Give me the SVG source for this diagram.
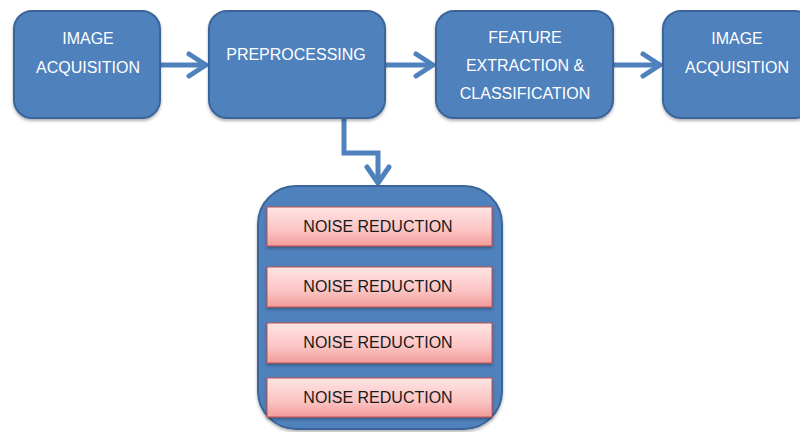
<svg xmlns="http://www.w3.org/2000/svg" width="800" height="432" viewBox="0 0 800 432">
  <defs>
    <linearGradient id="pink" x1="0" y1="0" x2="0" y2="1">
      <stop offset="0" stop-color="#FFE4E4"/>
      <stop offset="0.6" stop-color="#FBC4C3"/>
      <stop offset="1" stop-color="#F29B99"/>
    </linearGradient>
    <filter id="shadow" x="-10%" y="-10%" width="120%" height="130%">
      <feDropShadow dx="0" dy="2" stdDeviation="1.5" flood-color="#000" flood-opacity="0.3"/>
    </filter>
  </defs>
  <style>
    .box { fill: #4F81BD; stroke: #3A659A; stroke-width: 2; filter: url(#shadow); }
    .bar { fill: url(#pink); stroke: #C0504D; stroke-width: 1; filter: url(#shadow); }
    .lbl { font-family: "Liberation Sans", Arial, sans-serif; font-size: 16px; fill: #FFFFFF; text-anchor: middle; }
    .dark { font-family: "Liberation Sans", Arial, sans-serif; font-size: 16px; fill: #1A1A1A; text-anchor: middle; }
    .wire { fill: none; stroke: #4F81BD; stroke-width: 5; stroke-linejoin: miter; }
    .head { fill: none; stroke: #4F81BD; stroke-width: 5; stroke-linecap: round; stroke-linejoin: round; }
  </style>
  <rect width="800" height="432" fill="#FFFFFF"/>

  <g id="connectors">
    <path class="wire" d="M160 65 H205"/>
    <path class="head" d="M189 54 L206 65 L189 76"/>
    <path class="wire" d="M385 65 H432"/>
    <path class="head" d="M416 54 L433 65 L416 76"/>
    <path class="wire" d="M613 65 H659"/>
    <path class="head" d="M643 54 L660 65 L643 76"/>
    <path class="wire" d="M344 118 V153 H378 V182"/>
    <path class="head" d="M367 167 L378 183 L389 167"/>
  </g>

  <g id="acquisition-in">
    <rect class="box" x="14" y="11" width="146" height="107" rx="18"/>
    <text class="lbl" x="88" y="44">IMAGE</text>
    <text class="lbl" x="88" y="73">ACQUISITION</text>
  </g>

  <g id="preprocessing">
    <rect class="box" x="209" y="11" width="176" height="107" rx="18"/>
    <text class="lbl" x="296" y="60">PREPROCESSING</text>
  </g>

  <g id="feature-extraction">
    <rect class="box" x="436" y="11" width="177" height="107" rx="18"/>
    <text class="lbl" x="525" y="43">FEATURE</text>
    <text class="lbl" x="525" y="71">EXTRACTION &amp;</text>
    <text class="lbl" x="525" y="99">CLASSIFICATION</text>
  </g>

  <g id="acquisition-out">
    <rect class="box" x="663" y="11" width="150" height="107" rx="18"/>
    <text class="lbl" x="737" y="44">IMAGE</text>
    <text class="lbl" x="737" y="73">ACQUISITION</text>
  </g>

  <g id="preprocessing-steps">
    <rect class="box" x="258" y="186" width="244" height="243" rx="38" stroke-width="3"/>
    <g id="step-1">
      <rect class="bar" x="267" y="207" width="225" height="39"/>
      <text class="dark" x="378" y="232">NOISE REDUCTION</text>
    </g>
    <g id="step-2">
      <rect class="bar" x="267" y="267" width="225" height="40"/>
      <text class="dark" x="378" y="292">NOISE REDUCTION</text>
    </g>
    <g id="step-3">
      <rect class="bar" x="267" y="323" width="225" height="40"/>
      <text class="dark" x="378" y="348">NOISE REDUCTION</text>
    </g>
    <g id="step-4">
      <rect class="bar" x="267" y="378" width="225" height="39"/>
      <text class="dark" x="378" y="403">NOISE REDUCTION</text>
    </g>
  </g>
</svg>
